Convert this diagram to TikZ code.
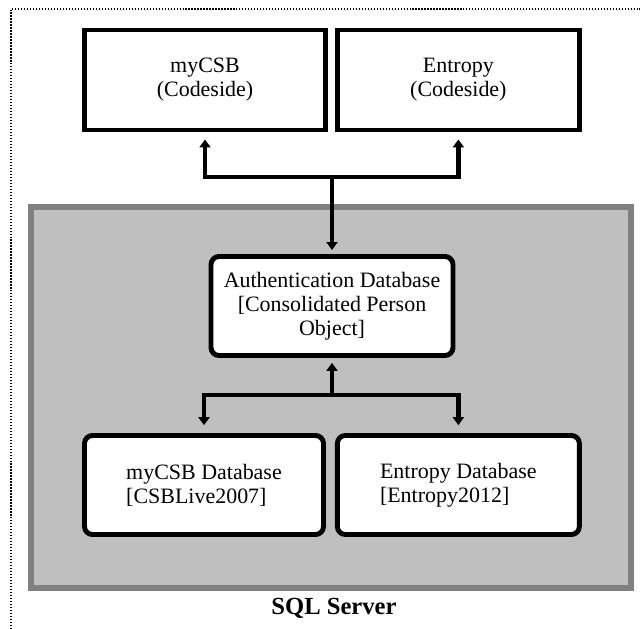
\documentclass[tikz,border=0pt]{standalone}
\usepackage{fontspec}
\setmainfont{Liberation Serif}
\usepackage{tikz}
\usetikzlibrary{arrows.meta,positioning}

\begin{document}
\begin{tikzpicture}[
  x=0.02cm, y=-0.02cm,
  txt/.style={font=\fontsize{12.5}{13.6}\selectfont},
  appbox/.style={txt, draw, line width=2.8pt, fill=white, align=center,
    minimum width=4.82cm, minimum height=2cm, inner sep=2pt},
  dbbox/.style={txt, draw, line width=2.8pt, fill=white, rounded corners=4.5pt,
    minimum width=4.8cm, minimum height=1.98cm, inner sep=2pt},
  serverbox/.style={draw=black!50, fill=black!25, line width=3.4pt,
    minimum width=12cm, minimum height=7.62cm, inner sep=0pt},
  arr/.style={-{Triangle[length=4.5pt,width=6.2pt]}, line width=2.8pt, shorten >=4pt},
  frame/.style={densely dotted, line width=0.7pt}
]
\useasboundingbox (0,0) rectangle (640,629);
\draw[frame] (11,629) -- (11,9) -- (640,9);

\node[serverbox] (server) at (331,397.5) {};
\node[font=\fontsize{14}{16}\selectfont\bfseries] (sqllabel) at (334,608) {SQL Server};

\node[appbox] (mycsb) at (205,80) {myCSB\\(Codeside)};
\node[appbox, right=0.14cm of mycsb, minimum width=4.84cm] (entropy) {Entropy\\(Codeside)};
\node[dbbox, align=center, minimum width=4.84cm] (auth) at (332,306)
  {Authentication Database\\{[}Consolidated Person\\Object]};
\node[dbbox, align=left, minimum width=4.78cm] (mycsbdb) at (204,485)
  {myCSB Database\\{[}CSBLive2007]};
\node[dbbox, align=left, right=0.18cm of mycsbdb, minimum width=4.84cm] (entropydb)
  {Entropy Database\\{[}Entropy2012]};

\coordinate (tophub) at (332,177);
\coordinate (lowhub) at (332,395);

\draw[arr] (tophub) -| (mycsb);
\draw[arr] (tophub) -| (entropy);
\draw[arr, shorten >=2.3pt] (tophub) -- (auth);
\draw[arr, shorten >=2.8pt] (lowhub) -- (auth);
\draw[arr, shorten >=4.5pt] (lowhub) -| (mycsbdb);
\draw[arr, shorten >=4.5pt] (lowhub) -| (entropydb);
\end{tikzpicture}
\end{document}
